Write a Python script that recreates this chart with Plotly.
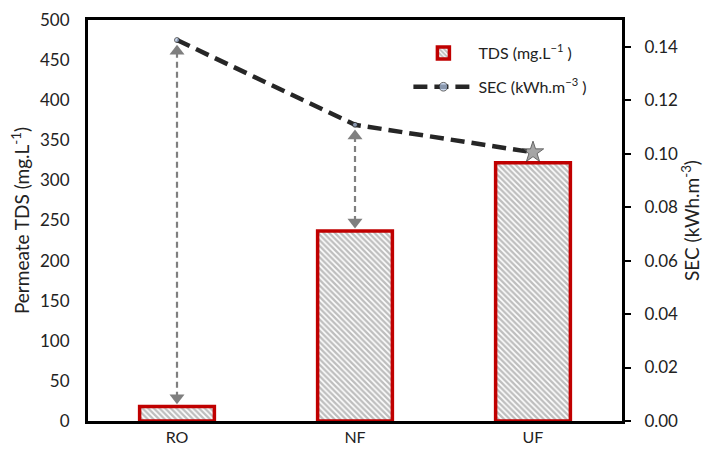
import plotly.graph_objects as go

categories = ["RO", "NF", "UF"]
tds_values = [18, 237, 322]
sec_values = [0.1425, 0.1108, 0.1005]
arrow_categories = ["RO", "NF"]

Y1_MAX = 500
Y2_MAX = 0.15
scale = Y1_MAX / Y2_MAX

fig = go.Figure()

fig.add_trace(go.Bar(
    x=categories, y=tds_values, name="TDS (mg.L<sup>\u22121</sup> )",
    width=0.42, legendgroup="a",
    marker=dict(color="white", line=dict(color="#c00000", width=3.5),
                pattern=dict(shape="\\", fgcolor="#7d7d7d", bgcolor="white",
                             size=4, solidity=0.6)),
    yaxis="y",
))

# double-headed dashed arrows between bar tops and SEC points
for cat in arrow_categories:
    i = categories.index(cat)
    bottom = tds_values[i]
    top = sec_values[i] * scale
    fig.add_trace(go.Scatter(
        x=[cat, cat], y=[bottom + 11, top - 14], mode="lines+markers",
        line=dict(color="#7f7f7f", width=2.2, dash="6px,4px"),
        marker=dict(symbol=["triangle-down", "triangle-up"], size=13, color="#7f7f7f"),
        showlegend=False, yaxis="y", hoverinfo="skip",
    ))

fig.add_trace(go.Scatter(
    x=categories, y=sec_values, name="SEC (kWh.m<sup>\u22123</sup> )",
    mode="lines+markers", legendgroup="b",
    line=dict(color="#262626", width=4.5, dash="14px,7px"),
    marker=dict(symbol=["circle", "circle", "star"], size=[5, 5, 16],
                color=["#b4c7e7", "#b4c7e7", "#7f7f7f"]),
    yaxis="y2",
))

font_family = "Lato, Open Sans, sans-serif"

fig.update_layout(
    width=707, height=457,
    margin=dict(l=88, r=85, t=20, b=36, autoexpand=False),
    plot_bgcolor="white", paper_bgcolor="white",
    font=dict(family=font_family, size=16, color="#222"),
    xaxis=dict(showline=True, linecolor="black", linewidth=3, mirror=True,
               ticks="", showgrid=False, tickfont=dict(size=16), automargin=False),
    yaxis=dict(range=[0, Y1_MAX], dtick=50, showgrid=False, zeroline=False,
               showline=True, linecolor="black", linewidth=3, mirror=True,
               ticks="outside", ticklen=12, tickcolor="rgba(0,0,0,0)",
               automargin=False,
               title=dict(text="Permeate TDS (mg.L<sup>-1</sup>)", font=dict(size=19), standoff=6),
               tickfont=dict(size=17)),
    yaxis2=dict(range=[0, Y2_MAX], dtick=0.02, tickformat=".2f", overlaying="y",
                side="right", showgrid=False, zeroline=False,
                showline=True, linecolor="black", linewidth=3,
                ticks="outside", ticklen=6, tickwidth=2, tickcolor="black",
                ticklabelstandoff=10, automargin=False,
                title=dict(text="SEC (kWh.m<sup>-3</sup>)", font=dict(size=19), standoff=4),
                tickfont=dict(size=17)),
    legend=dict(x=0.60, y=0.96, xanchor="left", yanchor="top",
                bgcolor="rgba(0,0,0,0)", font=dict(size=16), tracegroupgap=10,
                itemwidth=60),
)

fig.write_html("out.html", config={"displayModeBar": False},
               post_script="document.body.style.margin='0';")
